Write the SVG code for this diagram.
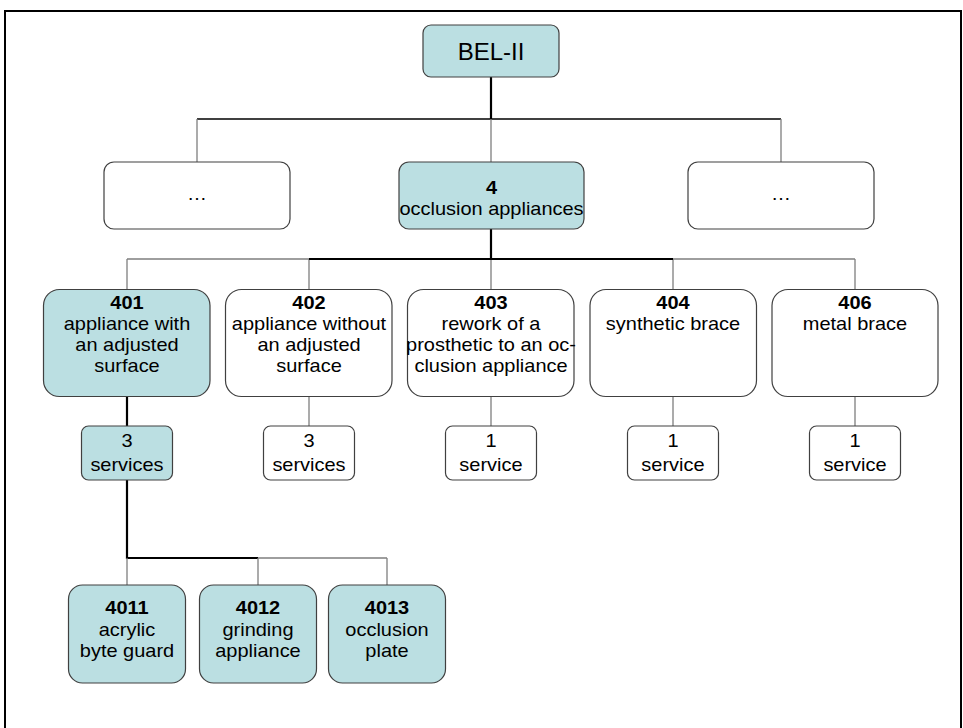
<svg xmlns="http://www.w3.org/2000/svg" width="963" height="728" viewBox="0 0 963 728">
<style>
.bg{fill:#ffffff}
.frame{fill:none;stroke:#000;stroke-width:2}
.box{stroke:#404040;stroke-width:1.2}
.hi{fill:#BBDFE2}
.lo{fill:#ffffff}
.t{font-family:"Liberation Sans",Arial,sans-serif;font-size:18px;fill:#000;text-anchor:middle}
.b{font-weight:bold}
.big{font-size:24px}
.g{stroke:#7f7f7f;stroke-width:1.3;fill:none}
.k{stroke:#000;stroke-width:2.2;fill:none}
.k1{stroke:#000;stroke-width:1.3;fill:none}
</style>
<rect class="bg" x="0" y="0" width="963" height="728"/>
<rect class="frame" x="5" y="11" width="956" height="730"/>
<g id="connectors">
  <path class="k1" d="M197 119 H781"/>
  <path class="g" d="M197 119 V162 M491 119 V162 M781 119 V162"/>
  <path class="k" d="M491 77 V119"/>
  <path class="g" d="M127 259 H855 M127 259 V289 M309 259 V289 M491 259 V289 M673 259 V289 M855 259 V289"/>
  <path class="k" d="M491 229 V259 M309 259 H673"/>
  <path class="g" d="M309 396 V426 M491 396 V426 M673 396 V426 M855 396 V426"/>
  <path class="k" d="M127 396 V426 M127 480 V558 H258"/>
  <path class="g" d="M258 558 H387 M127 558 V585 M258 558 V585 M387 558 V585"/>
</g>
<g id="bel2">
  <rect class="box hi" x="423" y="25" width="136" height="52" rx="8"/>
  <text class="t big" x="491" y="60">BEL-II</text>
</g>
<g id="dots-left">
  <rect class="box lo" x="104" y="162" width="186" height="67" rx="10"/>
  <g transform="matrix(1.11 0 0 1 -21.67 0)"><text class="t" x="197" y="200">…</text></g>
</g>
<g id="n4">
  <rect class="box hi" x="399" y="162" width="185" height="67" rx="10"/>
  <g transform="matrix(1.11 0 0 1 -54.07 0)">
  <text class="t b" x="491.5" y="194">4</text>
  <text class="t" x="491.5" y="215">occlusion appliances</text>
  </g>
</g>
<g id="dots-right">
  <rect class="box lo" x="688" y="162" width="186" height="67" rx="10"/>
  <g transform="matrix(1.11 0 0 1 -85.91 0)"><text class="t" x="781" y="200">…</text></g>
</g>
<g id="n401">
  <rect class="box hi" x="43.5" y="289.5" width="166.5" height="107" rx="16"/>
  <g transform="matrix(1.11 0 0 1 -13.97 0)">
  <text class="t b" x="127" y="309">401</text>
  <text class="t" x="127" y="330">appliance with</text>
  <text class="t" x="127" y="351">an adjusted</text>
  <text class="t" x="127" y="372">surface</text>
  </g>
</g>
<g id="n402">
  <rect class="box lo" x="225.5" y="289.5" width="166.5" height="107" rx="16"/>
  <g transform="matrix(1.11 0 0 1 -33.99 0)">
  <text class="t b" x="309" y="309">402</text>
  <text class="t" x="309" y="330">appliance without</text>
  <text class="t" x="309" y="351">an adjusted</text>
  <text class="t" x="309" y="372">surface</text>
  </g>
</g>
<g id="n403">
  <rect class="box lo" x="407.5" y="289.5" width="166.5" height="107" rx="16"/>
  <g transform="matrix(1.11 0 0 1 -54.01 0)">
  <text class="t b" x="491" y="309">403</text>
  <text class="t" x="491" y="330">rework of a</text>
  <text class="t" x="491" y="351">prosthetic to an oc-</text>
  <text class="t" x="491" y="372">clusion appliance</text>
  </g>
</g>
<g id="n404">
  <rect class="box lo" x="590" y="289.5" width="166.5" height="107" rx="16"/>
  <g transform="matrix(1.11 0 0 1 -74.03 0)">
  <text class="t b" x="673" y="309">404</text>
  <text class="t" x="673" y="330">synthetic brace</text>
  </g>
</g>
<g id="n406">
  <rect class="box lo" x="772" y="289.5" width="166" height="107" rx="16"/>
  <g transform="matrix(1.11 0 0 1 -94.05 0)">
  <text class="t b" x="855" y="309">406</text>
  <text class="t" x="855" y="330">metal brace</text>
  </g>
</g>
<g id="s401">
  <rect class="box hi" x="81.5" y="426" width="91" height="54" rx="7"/>
  <g transform="matrix(1.11 0 0 1 -13.97 0)">
  <text class="t" x="127" y="447">3</text>
  <text class="t" x="127" y="471">services</text>
  </g>
</g>
<g id="s402">
  <rect class="box lo" x="263.5" y="426" width="91" height="54" rx="7"/>
  <g transform="matrix(1.11 0 0 1 -33.99 0)">
  <text class="t" x="309" y="447">3</text>
  <text class="t" x="309" y="471">services</text>
  </g>
</g>
<g id="s403">
  <rect class="box lo" x="445.5" y="426" width="91" height="54" rx="7"/>
  <g transform="matrix(1.11 0 0 1 -54.01 0)">
  <text class="t" x="491" y="447">1</text>
  <text class="t" x="491" y="471">service</text>
  </g>
</g>
<g id="s404">
  <rect class="box lo" x="627.5" y="426" width="91" height="54" rx="7"/>
  <g transform="matrix(1.11 0 0 1 -74.03 0)">
  <text class="t" x="673" y="447">1</text>
  <text class="t" x="673" y="471">service</text>
  </g>
</g>
<g id="s406">
  <rect class="box lo" x="809.5" y="426" width="91" height="54" rx="7"/>
  <g transform="matrix(1.11 0 0 1 -94.05 0)">
  <text class="t" x="855" y="447">1</text>
  <text class="t" x="855" y="471">service</text>
  </g>
</g>
<g id="n4011">
  <rect class="box hi" x="68.5" y="585" width="117" height="98" rx="14"/>
  <g transform="matrix(1.11 0 0 1 -13.97 0)">
  <text class="t b" x="127" y="614">4011</text>
  <text class="t" x="127" y="636">acrylic</text>
  <text class="t" x="127" y="657">byte guard</text>
  </g>
</g>
<g id="n4012">
  <rect class="box hi" x="199.5" y="585" width="117" height="98" rx="14"/>
  <g transform="matrix(1.11 0 0 1 -28.38 0)">
  <text class="t b" x="258" y="614">4012</text>
  <text class="t" x="258" y="636">grinding</text>
  <text class="t" x="258" y="657">appliance</text>
  </g>
</g>
<g id="n4013">
  <rect class="box hi" x="328.5" y="585" width="117" height="98" rx="14"/>
  <g transform="matrix(1.11 0 0 1 -42.57 0)">
  <text class="t b" x="387" y="614">4013</text>
  <text class="t" x="387" y="636">occlusion</text>
  <text class="t" x="387" y="657">plate</text>
  </g>
</g>
</svg>
